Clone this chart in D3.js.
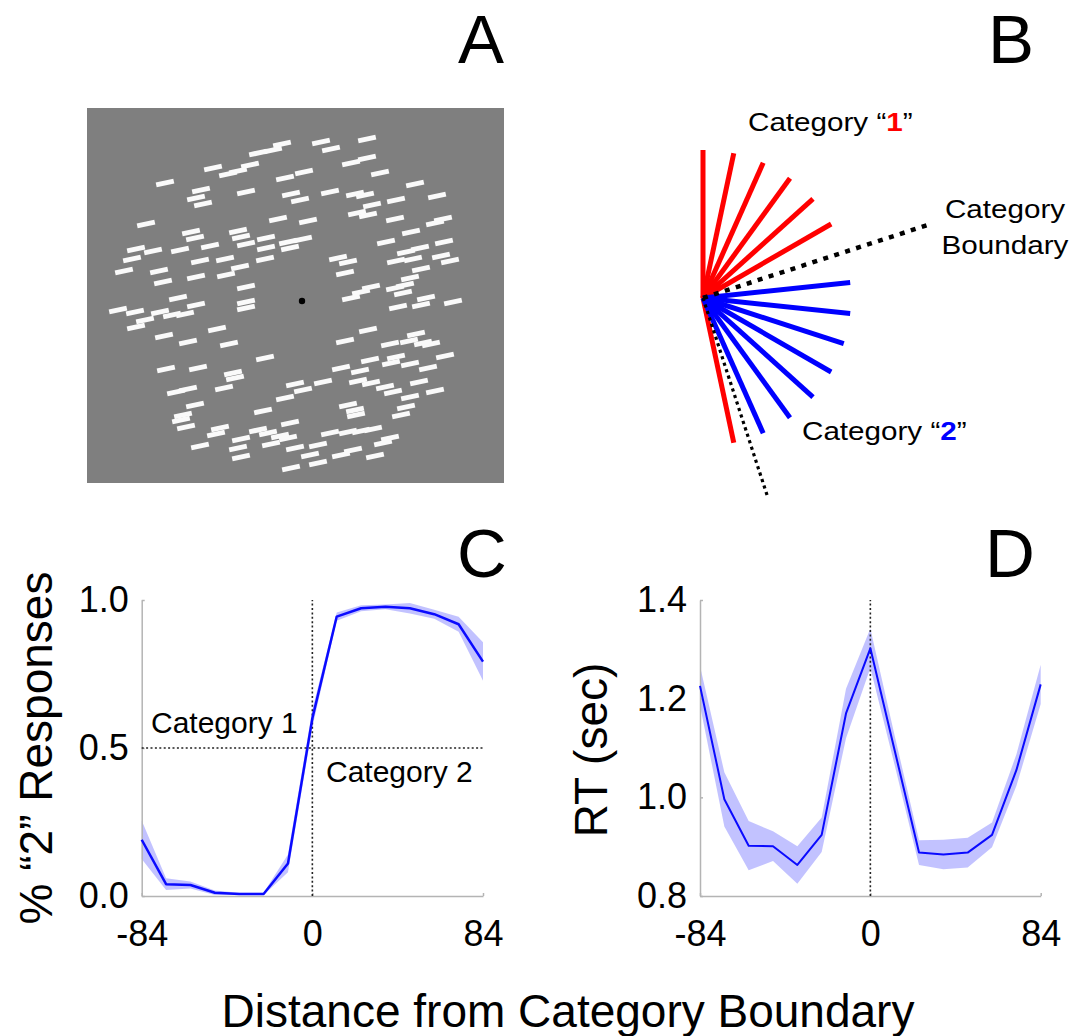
<!DOCTYPE html>
<html lang="en">
<head>
<meta charset="UTF-8">
<title>Orientation categorization</title>
<script src="https://d3js.org/d3.v7.min.js"></script>
<style>
  body { margin: 0; background: #fff; }
  text { font-family: "Liberation Sans", Arial, sans-serif; fill: #000; }
  .axis path, .axis line { stroke: #b4b4b4; stroke-width: 1.5; }
  .axis text { font-size: 36px; fill: #000; }
</style>
</head>
<body>
<div id="chart"></div>
<script>
// ---- data ----
// distance from category boundary (deg)
const distances = [-84, -72, -60, -48, -36, -24, -12, 0, 12, 24, 36, 48, 60, 72, 84];

// panel C: proportion of "2" responses, mean and sem
const pctMean = [0.19, 0.04, 0.037, 0.011, 0.007, 0.007, 0.11, 0.6, 0.944, 0.972, 0.977, 0.972, 0.952, 0.918, 0.792];
const pctSem  = [0.065, 0.02, 0.012, 0.008, 0.004, 0.004, 0.03, 0.03, 0.014, 0.01, 0.008, 0.018, 0.015, 0.025, 0.065];

// panel D: reaction time (sec), mean and sem
const rtMean = [1.226, 0.996, 0.902, 0.901, 0.863, 0.924, 1.17, 1.302, 1.095, 0.888, 0.884, 0.888, 0.924, 1.055, 1.229];
const rtSem  = [0.04, 0.055, 0.05, 0.03, 0.038, 0.035, 0.05, 0.04, 0.03, 0.025, 0.03, 0.03, 0.025, 0.032, 0.04];

const pctTicks = [0, 0.5, 1];
const rtTicks = [0.8, 1.0, 1.2, 1.4];
const distTicks = [-84, 0, 84];

// panel B: orientations (deg, counter-clockwise from horizontal)
const cat1Angles = [90, 78, 66, 54, 42, 30, -78];
const cat2Angles = [6, -6, -18, -30, -42, -54, -66];
const boundaryAngles = [18, -72];

// panel A: centres of the line elements in the example stimulus (relative to fixation)
const dashCenters = [
  [-44,-148],[-29,-151],[-20,-157],[19,-159],[29,-152],[65,-162],[49,-138],[65,-143],
  [-89,-133],[-74,-127],[-64,-130],[-52,-136],[-17,-123],[2,-129],[78,-128],[-137,-118],
  [-101,-111],[-106,-103],[-99,-97],[-56,-109],[-11,-107],[-2,-101],[28,-109],[53,-107],
  [63,-106],[113,-117],[94,-101],[135,-105],[70,-96],[55,-88],[66,-86],
  [-156,-77],[-24,-82],[6,-80],[93,-82],[141,-82],[133,-78],[-111,-69],[-107,-63],
  [-64,-70],[-61,-64],[-36,-63],[-14,-59],[1,-62],[-12,-53],[109,-69],[84,-59],[142,-59],
  [-166,-52],[-170,-42],[-149,-50],[-122,-51],[-92,-55],[-56,-57],[-36,-53],[36,-43],
  [46,-39],[118,-53],[104,-49],[111,-42],[94,-40],[139,-45],[148,-40],[-178,-30],
  [-143,-30],[-102,-40],[-77,-42],[-62,-34],[-37,-42],[43,-28],[119,-32],[-139,-19],
  [-106,-24],[-76,-26],[-56,-14],[108,-23],[103,-16],[93,-13],[69,-14],[59,-9],[49,-3],
  [-184,9],[-167,11],[-142,11],[-130,14],[-117,13],[-106,4],[-124,-3],[-56,1],[-56,7],
  [-157,19],[-166,26],[101,-8],[124,-3],[119,4],[96,6],[151,1],
  [-138,35],[-85,28],[-114,41],[-73,43],[43,40],[66,29],[88,43],[114,33],[107,40],
  [121,42],[129,43],
  [-37,57],[-136,68],[-104,67],[-69,72],[-67,77],[39,67],[58,70],[68,59],[94,56],
  [89,62],[108,63],[126,67],[143,55],
  [-126,91],[-114,88],[-78,87],[-7,83],[1,89],[-17,97],[21,81],[56,80],[69,82],
  [83,86],[91,91],[108,96],[117,81],[133,90],
  [-107,104],[-119,114],[-121,119],[-116,126],[-39,110],[-12,122],[46,104],[53,109],
  [54,114],[104,106],[99,114],
  [-82,127],[-86,133],[-61,138],[-44,129],[-34,132],[-22,135],[-14,137],[28,132],
  [46,131],[59,130],[71,128],[88,137],[81,142],
  [-102,145],[-64,147],[-61,156],[-31,143],[-7,147],[16,144],[8,154],[39,154],
  [51,149],[73,155],[-11,167],[16,162]
];

const W = 1074, H = 1036;
const svg = d3.select("#chart").append("svg")
  .attr("width", W)
  .attr("height", H);

// ---- panel letters ----
[["A", 481, 63], ["B", 1011, 63], ["C", 482, 577], ["D", 1010, 577]].forEach(([t, x, y]) => {
  svg.append("text").attr("x", x).attr("y", y)
    .attr("text-anchor", "middle")
    .style("font-size", "69px")
    .text(t);
});

// ---- panel A: stimulus ----
const ax = d3.scaleLinear().domain([-215, 202]).range([87, 504]);
const ay = d3.scaleLinear().domain([-193, 182]).range([108, 483]);
const gA = svg.append("g");
gA.append("rect")
  .attr("x", ax(-215)).attr("y", ay(-193))
  .attr("width", ax(202) - ax(-215)).attr("height", ay(182) - ay(-193))
  .attr("fill", "#7f7f7f");

const tilt = 12 * Math.PI / 180, half = 9;
gA.selectAll("line.dash")
  .data(dashCenters)
  .join("line")
  .attr("class", "dash")
  .attr("x1", d => ax(d[0]) - half * Math.cos(tilt))
  .attr("y1", d => ay(d[1]) + half * Math.sin(tilt))
  .attr("x2", d => ax(d[0]) + half * Math.cos(tilt))
  .attr("y2", d => ay(d[1]) - half * Math.sin(tilt))
  .attr("stroke", "#fafafa")
  .attr("stroke-width", 5);

gA.append("circle").attr("cx", ax(0)).attr("cy", ay(0)).attr("r", 3.2).attr("fill", "#000");

// ---- panel B: category definition ----
const origin = [703, 298];
const r = d3.scaleLinear().domain([0, 1]).range([0, 148]);
const rad = a => (90 - a) * Math.PI / 180;
const gB = svg.append("g").attr("transform", `translate(${origin[0]},${origin[1]})`);

function spoke(sel, angles, len, color, width) {
  sel.selectAll(null)
    .data(angles)
    .join("line")
    .attr("x1", 0).attr("y1", 0)
    .attr("x2", d => d3.pointRadial(rad(d), r(len))[0])
    .attr("y2", d => d3.pointRadial(rad(d), r(len))[1])
    .attr("stroke", color)
    .attr("stroke-width", width);
}
spoke(gB.append("g"), cat1Angles, 1, "#ff0000", 5);
spoke(gB.append("g"), cat2Angles, 1, "#0000ff", 5);

// boundaries (dotted)
gB.append("line")
  .attr("x1", 0).attr("y1", 0)
  .attr("x2", d3.pointRadial(rad(boundaryAngles[0]), r(1.6))[0])
  .attr("y2", d3.pointRadial(rad(boundaryAngles[0]), r(1.6))[1])
  .attr("stroke", "#000").attr("stroke-width", 4.5)
  .attr("stroke-dasharray", "5,6.5");
gB.append("line")
  .attr("x1", 0).attr("y1", 0)
  .attr("x2", d3.pointRadial(rad(boundaryAngles[1]), r(1.4))[0])
  .attr("y2", d3.pointRadial(rad(boundaryAngles[1]), r(1.4))[1])
  .attr("stroke", "#000").attr("stroke-width", 3.2)
  .attr("stroke-dasharray", "3.2,3.6");

function catLabel(x, y, num, color) {
  const t = svg.append("text")
    .attr("transform", `translate(${x},${y}) scale(1.14,1)`)
    .style("font-size", "26px");
  t.append("tspan").text("Category \u201C");
  t.append("tspan").style("fill", color).style("font-weight", "bold").text(num);
  t.append("tspan").text("\u201D");
}
catLabel(748, 131, "1", "#ff0000");
catLabel(802, 440, "2", "#0000ff");

["Category", "Boundary"].forEach((s, i) => {
  svg.append("text")
    .attr("transform", `translate(1005,${218 + i * 36}) scale(1.14,1)`)
    .attr("text-anchor", "middle")
    .style("font-size", "26px")
    .text(s);
});

// ---- panels C & D: line + sem band ----
function linePanel(opts) {
  const { x0, x1, yDomain, yTicks, mean, sem, lineWidth } = opts;
  const x = d3.scaleLinear().domain([-84, 84]).range([x0, x1]);
  const y = d3.scaleLinear().domain(yDomain).range([896, 600]);
  const g = svg.append("g");

  const rows = distances.map((d, i) => ({ d, m: mean[i], s: sem[i] }));

  g.append("path")
    .datum(rows)
    .attr("fill", "#0000ff")
    .attr("fill-opacity", 0.24)
    .attr("d", d3.area().x(p => x(p.d)).y0(p => y(p.m - p.s)).y1(p => y(p.m + p.s)));

  g.append("g")
    .attr("class", "axis")
    .attr("transform", "translate(0,896)")
    .call(d3.axisBottom(x).tickValues(distTicks).tickFormat(d => String(d))
      .tickSizeInner(-3).tickSizeOuter(0).tickPadding(24));
  g.append("g")
    .attr("class", "axis")
    .attr("transform", `translate(${x0},0)`)
    .call(d3.axisLeft(y).tickValues(yTicks).tickFormat(d => d.toFixed(1))
      .tickSizeInner(-3).tickSizeOuter(0).tickPadding(13));
  g.selectAll(".axis .tick text").style("fill", "#000");
  g.selectAll(".axis").attr("font-family", null).attr("font-size", null);

  // boundary marker at 0
  g.append("line")
    .attr("x1", x(0)).attr("x2", x(0))
    .attr("y1", y(yDomain[0])).attr("y2", y(yDomain[1]))
    .attr("stroke", "#222").attr("stroke-width", 1.6)
    .attr("stroke-dasharray", "2,2.4");

  g.append("path")
    .datum(rows)
    .attr("fill", "none")
    .attr("stroke", "#0a0aff")
    .attr("stroke-width", lineWidth)
    .attr("stroke-linejoin", "round")
    .attr("d", d3.line().x(p => x(p.d)).y(p => y(p.m)));

  return { g, x, y };
}

const C = linePanel({ x0: 141.7, x1: 483, yDomain: [0, 1], yTicks: pctTicks, mean: pctMean, sem: pctSem, lineWidth: 2.5 });
C.g.append("line")
  .attr("x1", C.x(-84)).attr("x2", C.x(84))
  .attr("y1", C.y(0.5)).attr("y2", C.y(0.5))
  .attr("stroke", "#222").attr("stroke-width", 1.6)
  .attr("stroke-dasharray", "2,2.4");
C.g.append("text").attr("x", 151).attr("y", 733).style("font-size", "30px").text("Category 1");
C.g.append("text").attr("x", 326).attr("y", 782).style("font-size", "30px").text("Category 2");

const D = linePanel({ x0: 700, x1: 1040.7, yDomain: [0.8, 1.4], yTicks: rtTicks, mean: rtMean, sem: rtSem, lineWidth: 2 });

// axis titles
svg.append("text")
  .attr("transform", "translate(52,748) rotate(-90)")
  .attr("text-anchor", "middle")
  .style("font-size", "46px")
  .text("% \u201C2\u201D Responses");
svg.append("text")
  .attr("transform", "translate(607,750) rotate(-90)")
  .attr("text-anchor", "middle")
  .style("font-size", "46px")
  .text("RT (sec)");
svg.append("text")
  .attr("x", 568).attr("y", 1027)
  .attr("text-anchor", "middle")
  .style("font-size", "46px")
  .text("Distance from Category Boundary");
</script>
</body>
</html>
